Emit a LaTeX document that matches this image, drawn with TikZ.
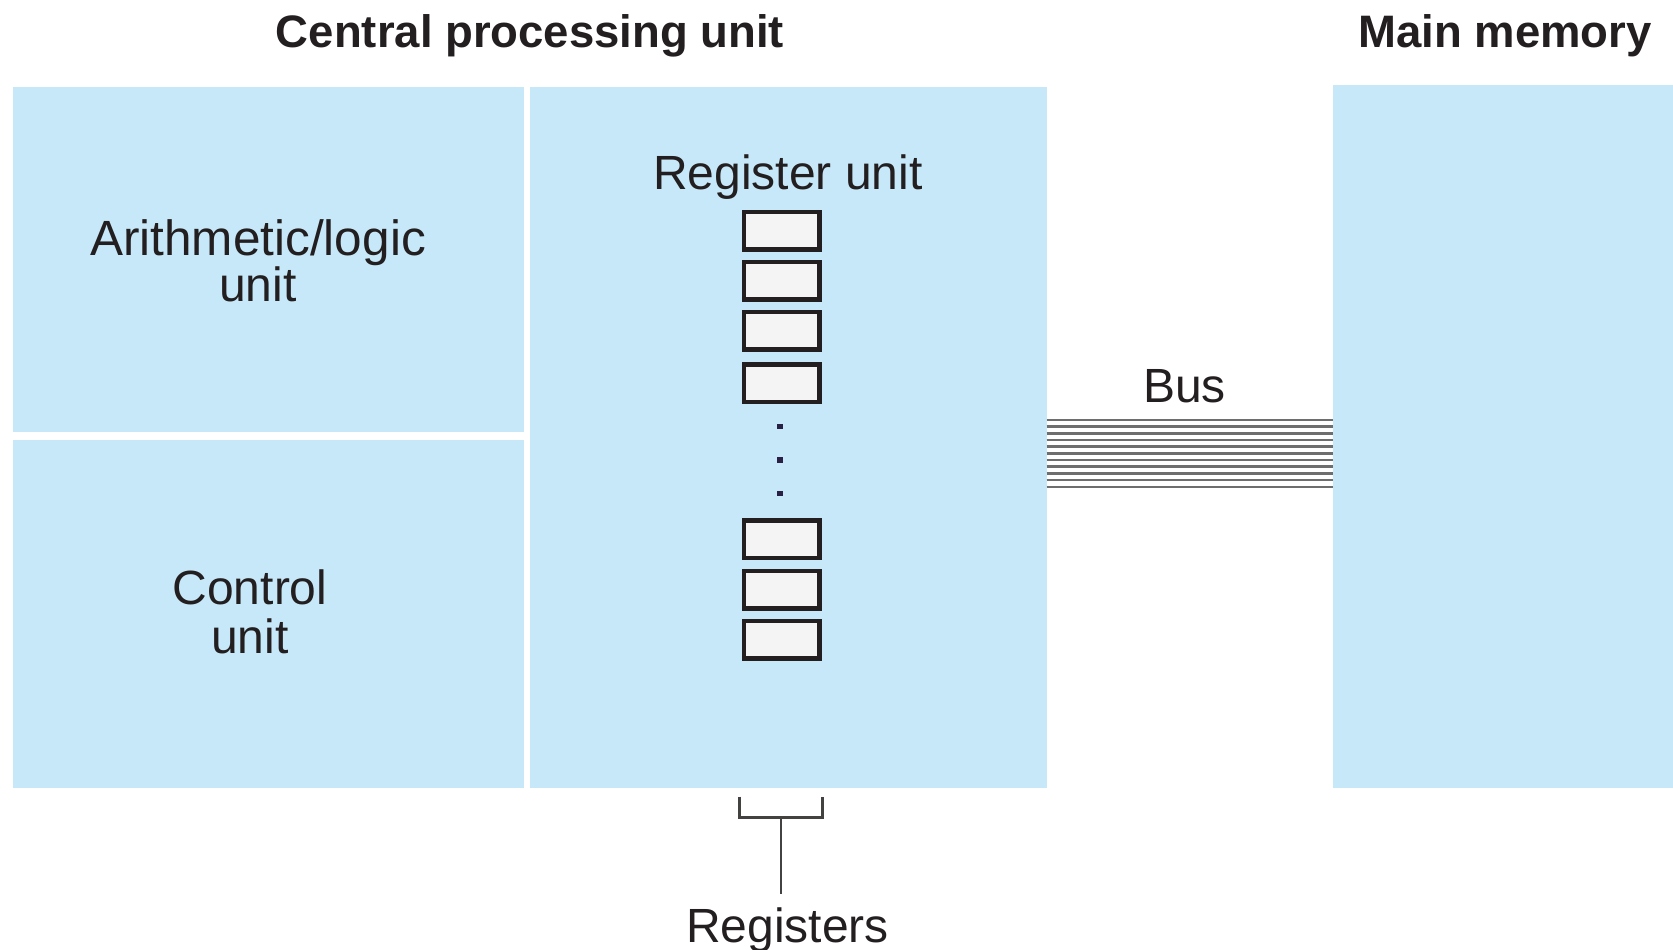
\documentclass[tikz,border=0pt]{standalone}
\usepackage{fontspec}
\setmainfont{Liberation Sans}
\definecolor{blockblue}{HTML}{C6E8F8}
\definecolor{ink}{HTML}{231F20}
\definecolor{dotink}{HTML}{2A2045}
\definecolor{regfill}{HTML}{F4F4F4}
\definecolor{busgray}{HTML}{6E6E6E}
\begin{document}
\begin{tikzpicture}[x=1pt,y=-1pt,
  block/.style={fill=blockblue,draw=none,inner sep=0pt,outer sep=0pt,anchor=north west},
  regbox/.style={draw=ink,fill=regfill,line width=4.5pt,minimum width=75.5pt,minimum height=37.5pt,inner sep=0pt,outer sep=0pt},
  dotnode/.style={rectangle,fill=dotink,inner sep=0pt,minimum size=5.5pt},
  lbl/.style={text=ink,font=\fontsize{48}{49}\selectfont,inner sep=0pt,anchor=base},
  title/.style={text=ink,font=\fontsize{45.5}{50}\selectfont\bfseries,inner sep=0pt,anchor=base},
  busline/.style={draw=busgray,line width=2.4pt},
  brk/.style={draw=ink!85,line width=2.5pt}]
\useasboundingbox (0,0) rectangle (1673,950);
% blocks
\node[block,minimum width=511pt,minimum height=345pt] (alu) at (13,87) {};
\node[block,minimum width=511pt,minimum height=347.5pt] (cu) at (13,440) {};
\node[block,minimum width=516.5pt,minimum height=700.5pt] (reg) at (530.2,87) {};
\node[block,minimum width=341pt,minimum height=703pt] (mem) at (1332.7,84.5) {};
% titles
\node[title] (tcpu) at (530,48) {Central processing unit};
\node[title] (tmem) at (1505,48) {Main memory};
% labels
\node[lbl,font=\fontsize{49.5}{49}\selectfont] (talu1) at (258,255) {Arithmetic/logic};
\node[lbl] (talu2) at (258,301) {unit};
\node[lbl] (tcu1) at (250,604) {Control};
\node[lbl] (tcu2) at (250,653) {unit};
\node[lbl] (treg) at (788,189) {Register unit};
\node[lbl] (tbus) at (1184.5,402) {Bus};
\node[lbl] (tregs) at (787.5,942) {Registers};
% registers
\node[regbox] (r1) at (781.7,230.8) {};
\node[regbox] (r2) at (781.7,280.5) {};
\node[regbox] (r3) at (781.7,330.8) {};
\node[regbox] (r4) at (781.7,383.3) {};
\node[regbox] (r5) at (781.7,539.4) {};
\node[regbox] (r6) at (781.7,589.5) {};
\node[regbox] (r7) at (781.7,639.6) {};
\node[dotnode] (d1) at (780,426.7) {};
\node[dotnode] (d2) at (780,460) {};
\node[dotnode] (d3) at (780,493.3) {};
% bus
\foreach \i in {0,...,10}{
  \draw[busline] (reg.east |- 0,{420+\i*6.67}) -- (mem.west |- 0,{420+\i*6.67});
}
% bracket
\coordinate (bl) at (739.3,796.7);
\coordinate (br) at (822.7,796.7);
\coordinate (bm) at (781,817.7);
\coordinate (bs) at (781,893.5);
\draw[brk] (bl) -- (bl |- bm) -- (br |- bm) -- (br);
\draw[brk] (bm) -- (bs);
\end{tikzpicture}
\end{document}
